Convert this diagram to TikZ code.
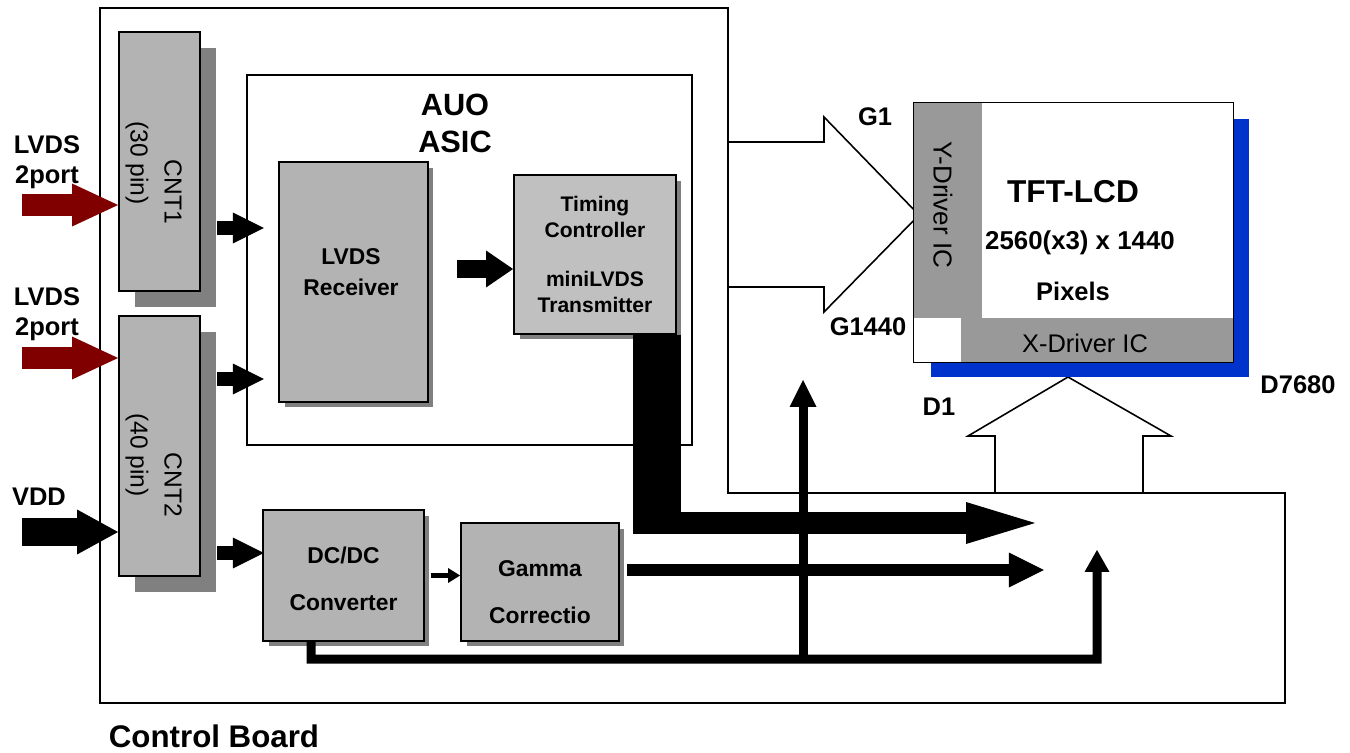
\documentclass[tikz,border=0pt]{standalone}
\usepackage{fontspec}
\setmainfont{Liberation Sans}
\usetikzlibrary{arrows.meta,shadows}

\definecolor{boxgray}{HTML}{B3B3B3}
\definecolor{tcongray}{HTML}{C0C0C0}
\definecolor{shadegray}{HTML}{808080}
\definecolor{drvgray}{HTML}{999999}
\definecolor{panelblue}{HTML}{0033CC}
\definecolor{lvdsred}{HTML}{800000}

\newcommand{\lblfont}{\fontsize{14.5}{17}\selectfont\bfseries}
\newcommand{\cntfont}{\fontsize{14}{17}\selectfont}

\tikzset{
  blk/.style={draw, line width=1.1pt, fill=boxgray, inner sep=0pt, align=center,
    general shadow={fill=shadegray, shadow xshift=0.11cm, shadow yshift=-0.11cm}},
  cnt/.style={draw, line width=1.1pt, fill=boxgray, inner sep=0pt, minimum width=1.62cm,
    general shadow={fill=shadegray, shadow xshift=0.32cm, shadow yshift=-0.32cm}},
  lbl/.style={font=\lblfont, align=center, inner sep=0pt},
  hollow/.style={draw, fill=white, line width=0.9pt, line join=miter},
  redin/.style={lvdsred, line width=0.44cm, -{Triangle[length=0.92cm, width=0.86cm, line width=0pt]}},
  feed/.style={line width=0.27cm, -{Triangle[length=0.62cm, width=0.62cm, line width=0pt]}},
}

\begin{document}
\begin{tikzpicture}[x=0.02cm, y=-0.02cm]
\useasboundingbox (0,0) rectangle (1350,753);

% hollow arrows to the driver ICs
\draw[hollow] (728,142) -- (824,142) -- (824,117) -- (919,215) -- (824,312) -- (824,287) -- (728,287);
\draw[hollow] (995,493) -- (995,436) -- (968,436) -- (1068,377) -- (1171,436) -- (1143,436) -- (1143,493);

% control board
\draw[line width=0.9pt] (100,8) -- (728,8) -- (728,493) -- (1285,493) -- (1285,703) -- (100,703) -- cycle;
\node[font=\fontsize{17.8}{20}\selectfont\bfseries] (board) at (214,736) {Control Board};

% connectors
\node[cnt, minimum height=5.18cm] (cntA) at (159.5,161.5) {};
\node[rotate=-90, font=\cntfont] (cntAname) at (173,192) {CNT1};
\node[rotate=-90, font=\cntfont] (cntApin) at (137,163) {(30 pin)};
\node[cnt, minimum height=5.2cm] (cntB) at (159.5,446) {};
\node[rotate=-90, font=\cntfont] (cntBname) at (173,485) {CNT2};
\node[rotate=-90, font=\cntfont] (cntBpin) at (137,455) {(40 pin)};

% inputs
\node[lbl] (lvdsA) at (47,162) {LVDS\\2port};
\node[lbl] (lvdsB) at (47,314) {LVDS\\2port};
\node[lbl] (vdd) at (39,497) {VDD};
\draw[redin] ([shift={(-96,43.5)}]cntA.west) -- (cntA.west |- 0,205);
\draw[redin] ([shift={(-96,-88)}]cntB.west) -- (cntB.west |- 0,358);
\draw[line width=0.56cm, -{Triangle[length=0.82cm, width=0.9cm, line width=0pt]}]
  ([shift={(-96,86)}]cntB.west) -- (cntB.west |- 0,532);

% AUO ASIC
\node[draw, line width=0.9pt, minimum width=8.9cm, minimum height=7.4cm] (asic) at (469.5,260) {};
\node[font=\fontsize{17.5}{21}\selectfont\bfseries, align=center] (asicname) at (455,123) {AUO\\ASIC};
\node[blk, minimum width=2.98cm, minimum height=4.8cm] (rx) at (353.5,282) {};
\node[font=\fontsize{13}{17.6}\selectfont\bfseries, align=center] (rxname) at (351,272) {LVDS\\Receiver};
\node[blk, fill=tcongray, minimum width=3.24cm, minimum height=3.18cm, font=\fontsize{12}{14.5}\selectfont\bfseries] (tcon) at (595,254.5) {Timing\\Controller\\[13.5pt]miniLVDS\\Transmitter};

% power part
\node[blk, minimum width=3.22cm, minimum height=2.62cm] (dcdc) at (343.5,575.5) {};
\node[font=\fontsize{13}{27}\selectfont\bfseries, align=center] (dcdcname) at (343.5,579) {DC/DC\\Converter};
\node[blk, minimum width=3.16cm, minimum height=2.36cm] (gamma) at (540,582) {};
\node[font=\fontsize{13}{27}\selectfont\bfseries, align=center] (gammaname) at (540,592) {Gamma\\Correctio};

% data paths
\draw[feed] ([shift={(16,66.5)}]cntA.east) -- ++(47,0);
\draw[feed] ([shift={(16,-67)}]cntB.east) -- ++(47,0);
\draw[feed] ([shift={(16,107)}]cntB.east) -- ++(47,0);
\draw[line width=0.36cm, -{Triangle[length=0.54cm, width=0.74cm, line width=0pt]}]
  ([shift={(28,-13)}]rx.east) -- (tcon.west |- 0,269);
\draw[line width=0.1cm, -{Triangle[length=0.24cm, width=0.3cm, line width=0pt]}]
  ([xshift=0.12cm]dcdc.east) -- (gamma.west |- dcdc.east);
\draw[line width=0.26cm, -{Triangle[length=0.7cm, width=0.7cm, line width=0pt]}]
  ([shift={(7,-12)}]gamma.east) -- ++(417,0);

% miniLVDS bus
\coordinate (busTurn) at (633,523);
\draw[line width=0.96cm] (tcon.south -| 657,0) -- (657,534);
\draw[line width=0.44cm, -{Triangle[length=1.38cm, width=0.84cm, line width=0pt]}]
  (busTurn) -- ++(402,0);

% supply lines
\coordinate (tap) at (803,659);
\draw[line width=0.18cm, -{Triangle[length=0.44cm, width=0.5cm, line width=0pt]}]
  ([xshift=-0.65cm]dcdc.south) -- (tap -| 311,0) -| ++(786,-109);
\draw[line width=0.18cm, -{Triangle[length=0.54cm, width=0.54cm, line width=0pt]}]
  (tap) -- ++(0,-279);

% TFT-LCD panel
\node[fill=panelblue, minimum width=6.36cm, minimum height=5.16cm] (lcdshade) at (1090,248) {};
\node[fill=white, minimum width=6.38cm, minimum height=5.18cm] (lcd) at (1073.5,232.5) {};
\node[fill=drvgray, minimum width=1.36cm, minimum height=4.3cm] (ydrv) at (948,210.5) {};
\node[fill=drvgray, minimum width=5.44cm, minimum height=0.88cm] (xdrv) at (1097,340) {};
\draw[line width=0.9pt] (lcd.north west) rectangle (lcd.south east);
\node[rotate=-90, font=\fontsize{14.8}{17}\selectfont] (ydrvname) at (943,205) {Y-Driver IC};
\node[font=\fontsize{14.5}{17}\selectfont] (xdrvname) at (1085,343) {X-Driver IC};
\node[font=\fontsize{18}{21}\selectfont\bfseries] (lcdname) at (1073,192) {TFT-LCD};
\node[font=\fontsize{14.7}{17}\selectfont\bfseries] (lcdres) at (1080,243) {2560(x3) x 1440};
\node[font=\fontsize{14.5}{17}\selectfont\bfseries] (lcdpix) at (1073,291) {Pixels};

% line labels
\node[lbl] (gfirst) at (875,117) {G1};
\node[lbl] (glast) at (868,327) {G1440};
\node[lbl] (dfirst) at (939,407) {D1};
\node[lbl] (dlast) at (1298,385) {D7680};

\end{tikzpicture}
\end{document}
